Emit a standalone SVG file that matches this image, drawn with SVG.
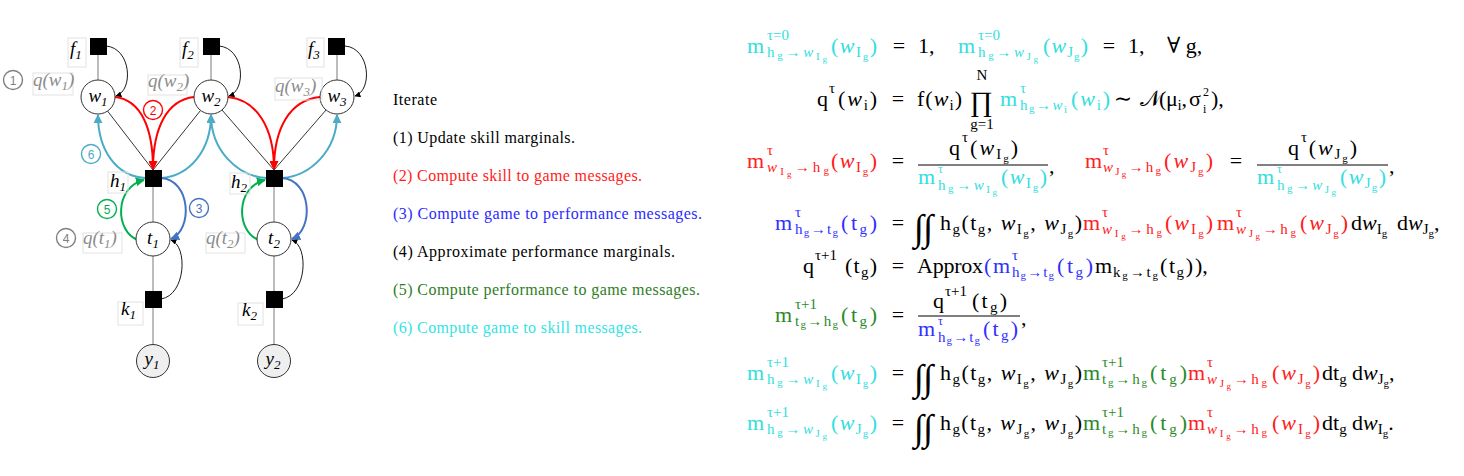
<svg xmlns="http://www.w3.org/2000/svg" width="1464" height="476" viewBox="0 0 1464 476">
<style>
.lbl{font-family:"Liberation Serif","DejaVu Serif",serif;font-style:italic;font-size:19px;fill:#000}
.ql{font-family:"Liberation Serif","DejaVu Serif",serif;font-style:italic;font-size:19px;fill:#8c8c8c}
.lb1{font-size:13px}
.box{fill:none;stroke:#e2e2e2;stroke-width:1}
.sq{fill:#000}
.nd{fill:#fff;stroke:#333;stroke-width:1}
.obs{fill:#efefef;stroke:#333;stroke-width:1}
.cn{font-family:"Liberation Sans",sans-serif;font-size:12px;text-anchor:middle}
.it{font-family:"Liberation Serif",serif;font-size:16px}
.m{font-family:"Liberation Serif","DejaVu Serif",serif;font-size:22px}
.s{font-size:15px}.s2{font-size:11px}.s3{font-size:9px}.sx{font-size:12px}
.w{font-style:italic}
.C{fill:#33dede}.R{fill:#ff2020}.B{fill:#3030ff}.G{fill:#2a8a2a}.K{fill:#000}
.eq{text-anchor:middle}
.int{font-size:37px}
</style>
<defs>
<marker id="aR" viewBox="0 0 10 10" refX="9" refY="5" markerWidth="9" markerHeight="9" markerUnits="userSpaceOnUse" orient="auto"><path d="M0,0L10,5L0,10z" fill="#ff0000"/></marker>
<marker id="aL" viewBox="0 0 10 10" refX="9" refY="5" markerWidth="9" markerHeight="9" markerUnits="userSpaceOnUse" orient="auto"><path d="M0,0L10,5L0,10z" fill="#4bacc6"/></marker>
<marker id="aG" viewBox="0 0 10 10" refX="9" refY="5" markerWidth="9" markerHeight="9" markerUnits="userSpaceOnUse" orient="auto"><path d="M0,0L10,5L0,10z" fill="#00b050"/></marker>
<marker id="aB" viewBox="0 0 10 10" refX="9" refY="5" markerWidth="9" markerHeight="9" markerUnits="userSpaceOnUse" orient="auto"><path d="M0,0L10,5L0,10z" fill="#4472c4"/></marker>
<marker id="aK" viewBox="0 0 10 10" refX="9" refY="5" markerWidth="6" markerHeight="6" markerUnits="userSpaceOnUse" orient="auto"><path d="M0,0L10,5L0,10z" fill="#000"/></marker>
</defs>
<rect width="1464" height="476" fill="#fff"/>

<!-- connectors -->
<g id="connectors" fill="none">
<g stroke="#7a7a7a" stroke-width="1">
<line x1="98" y1="54" x2="98" y2="80"/><line x1="211" y1="54" x2="211" y2="80"/><line x1="337" y1="54" x2="337" y2="80"/>
<line x1="153" y1="187" x2="153" y2="222"/><line x1="153" y1="256" x2="153" y2="291"/><line x1="153" y1="308" x2="153" y2="345"/>
<line x1="274" y1="187" x2="274" y2="222"/><line x1="274" y1="256" x2="274" y2="291"/><line x1="274" y1="308" x2="274" y2="345"/>
</g>
<g stroke="#000" stroke-width="0.8">
<line x1="107.5" y1="111" x2="153" y2="170"/><line x1="200.5" y1="110.5" x2="153" y2="170"/>
<line x1="222" y1="110" x2="274" y2="170"/><line x1="326" y1="110" x2="274" y2="170"/>
</g>
<g stroke="#000" stroke-width="0.9" marker-end="url(#aK)">
<path d="M106,46C131,48 134,90 116,96"/><path d="M219,46C244,48 247,90 229,96"/><path d="M345,46C370,48 373,90 355,96"/>
<path d="M161,299C186,295 188,246 171,240"/><path d="M282,299C307,295 309,246 292,240"/>
</g>
<g stroke="#ff0000" stroke-width="2" marker-end="url(#aR)">
<path d="M115,97C141,100 153,128 153,169"/><path d="M194,97C167,100 153,128 153,169"/>
<path d="M228,97C257,100 274,128 274,169"/><path d="M320,97C290,100 274,128 274,169"/>
</g>
<g stroke="#4bacc6" stroke-width="2" marker-end="url(#aL)">
<path d="M145,178C116,176 98,150 98,115"/><path d="M161,178C190,176 211,150 211,115"/>
<path d="M266,178C237,176 211,150 211,115"/><path d="M282,178C311,176 337,150 337,115"/>
</g>
<g stroke="#00b050" stroke-width="2" marker-end="url(#aG)">
<path d="M138,240C115,232 114,187 144,180"/><path d="M259,240C236,232 235,187 265,180"/>
</g>
<g stroke="#4472c4" stroke-width="2" marker-end="url(#aB)">
<path d="M161,178C191,180 193,230 171,239"/><path d="M282,178C312,180 314,230 292,239"/>
</g>
</g>

<!-- nodes -->
<g id="f1"><rect class="sq" x="90" y="38" width="17" height="17"/><rect class="box" x="68" y="38" width="18" height="29"/><text class="lbl" x="70" y="55">f<tspan class="lb1" dy="4">1</tspan></text></g>
<g id="f2"><rect class="sq" x="203" y="38" width="17" height="17"/><rect class="box" x="180" y="38" width="18" height="29"/><text class="lbl" x="182" y="55">f<tspan class="lb1" dy="4">2</tspan></text></g>
<g id="f3"><rect class="sq" x="328" y="38" width="17" height="17"/><rect class="box" x="307" y="38" width="17" height="29"/><text class="lbl" x="308" y="55">f<tspan class="lb1" dy="4">3</tspan></text></g>
<g id="w1"><circle class="nd" cx="98" cy="97" r="17"/><text class="lbl" x="98" y="102" text-anchor="middle">w<tspan class="lb1" dy="4">1</tspan></text></g>
<g id="w2"><circle class="nd" cx="211" cy="97" r="17"/><text class="lbl" x="211" y="102" text-anchor="middle">w<tspan class="lb1" dy="4">2</tspan></text></g>
<g id="w3"><circle class="nd" cx="337" cy="97" r="17"/><text class="lbl" x="337" y="102" text-anchor="middle">w<tspan class="lb1" dy="4">3</tspan></text></g>
<g id="qw1"><circle cx="13" cy="80" r="9.5" fill="none" stroke="#808080" stroke-width="1.4"/><text class="cn" x="13" y="84.5" fill="#808080">1</text><rect class="box" x="33" y="73" width="40" height="22"/><text class="ql" x="33" y="86">q(w<tspan class="lb1" dy="4">1</tspan><tspan dy="-4">)</tspan></text></g>
<g id="qw2"><rect class="box" x="148" y="75" width="39" height="20"/><text class="ql" x="148" y="87">q(w<tspan class="lb1" dy="4">2</tspan><tspan dy="-4">)</tspan></text></g>
<g id="qw3"><rect class="box" x="275" y="78" width="47" height="22"/><text class="ql" x="275" y="92">q(w<tspan class="lb1" dy="4">3</tspan><tspan dy="-4">)</tspan></text></g>
<g id="c2"><circle cx="153" cy="110" r="9.5" fill="#fff" stroke="#ff0000" stroke-width="1.4"/><text class="cn" x="153" y="114.5" fill="#ff0000">2</text></g>
<g id="c6"><circle cx="91" cy="154" r="9.5" fill="#fff" stroke="#4bacc6" stroke-width="1.4"/><text class="cn" x="91" y="158.5" fill="#4bacc6">6</text></g>
<g id="h1"><rect class="sq" x="145" y="170" width="17" height="17"/><rect class="box" x="108" y="172" width="20" height="21"/><text class="lbl" x="110" y="187">h<tspan class="lb1" dy="4">1</tspan></text></g>
<g id="h2"><rect class="sq" x="266" y="170" width="17" height="17"/><rect class="box" x="230" y="173" width="20" height="21"/><text class="lbl" x="231" y="188">h<tspan class="lb1" dy="4">2</tspan></text></g>
<g id="c5"><circle cx="107" cy="209" r="9.5" fill="#fff" stroke="#00b050" stroke-width="1.4"/><text class="cn" x="107" y="213.5" fill="#00b050">5</text></g>
<g id="c3"><circle cx="199" cy="208" r="9.5" fill="#fff" stroke="#4472c4" stroke-width="1.4"/><text class="cn" x="199" y="212.5" fill="#4472c4">3</text></g>
<g id="t1"><circle class="nd" cx="153" cy="239" r="17"/><text class="lbl" x="153" y="244" text-anchor="middle">t<tspan class="lb1" dy="4">1</tspan></text></g>
<g id="t2"><circle class="nd" cx="274" cy="239" r="17"/><text class="lbl" x="274" y="244" text-anchor="middle">t<tspan class="lb1" dy="4">2</tspan></text></g>
<g id="qt1"><circle cx="66" cy="238" r="9.5" fill="none" stroke="#808080" stroke-width="1.4"/><text class="cn" x="66" y="242.5" fill="#808080">4</text><rect class="box" x="83" y="233" width="39" height="20"/><text class="ql" x="83" y="244">q(t<tspan class="lb1" dy="4">1</tspan><tspan dy="-4">)</tspan></text></g>
<g id="qt2"><rect class="box" x="206" y="233" width="39" height="20"/><text class="ql" x="206" y="244">q(t<tspan class="lb1" dy="4">2</tspan><tspan dy="-4">)</tspan></text></g>
<g id="k1"><rect class="sq" x="145" y="291" width="17" height="17"/><rect class="box" x="118" y="302" width="25" height="23"/><text class="lbl" x="121" y="315">k<tspan class="lb1" dy="4">1</tspan></text></g>
<g id="k2"><rect class="sq" x="266" y="291" width="17" height="17"/><rect class="box" x="238" y="303" width="25" height="22"/><text class="lbl" x="242" y="316">k<tspan class="lb1" dy="4">2</tspan></text></g>
<g id="y1"><circle class="obs" cx="153" cy="361" r="16.5"/><text class="lbl" x="152" y="365" text-anchor="middle">y<tspan class="lb1" dy="4">1</tspan></text></g>
<g id="y2"><circle class="obs" cx="274" cy="361" r="16.5"/><text class="lbl" x="273" y="365" text-anchor="middle">y<tspan class="lb1" dy="4">2</tspan></text></g>

<!-- iterate list -->
<g id="steps" class="it">
<text x="393" y="105" textLength="44">Iterate</text>
<text x="393" y="143" textLength="182">(1) Update skill marginals.</text>
<text x="393" y="181" textLength="249" fill="#ff1a1a">(2) Compute skill to game messages.</text>
<text x="393" y="219" textLength="309" fill="#2a2aff">(3) Compute game to performance messages.</text>
<text x="393" y="257" textLength="282">(4) Approximate performance marginals.</text>
<text x="393" y="295" textLength="307" fill="#2e7d1e">(5) Compute performance to game messages.</text>
<text x="393" y="333" textLength="249" fill="#33e3e3">(6) Compute game to skill messages.</text>
</g>

<!-- equations -->
<g id="equations" class="m">
<!-- L1 -->
<g class="C">
<text x="747" y="53">m</text><text class="s" x="767" y="40">τ=0</text>
<text class="s" x="767" y="57" textLength="60">h<tspan class="s2" dy="2">g</tspan><tspan dy="-2">→</tspan><tspan class="w">w</tspan><tspan class="s2" dy="3">I</tspan><tspan class="s3" dy="2">g</tspan></text>
<text x="831" y="53" textLength="46">(<tspan class="w">w</tspan><tspan class="s" dy="4">I</tspan><tspan class="s2" dy="3">g</tspan><tspan dy="-7">)</tspan></text>
<text x="958" y="53">m</text><text class="s" x="978" y="40">τ=0</text>
<text class="s" x="978" y="57" textLength="60">h<tspan class="s2" dy="2">g</tspan><tspan dy="-2">→</tspan><tspan class="w">w</tspan><tspan class="s2" dy="3">J</tspan><tspan class="s3" dy="2">g</tspan></text>
<text x="1043" y="53" textLength="45">(<tspan class="w">w</tspan><tspan class="s" dy="4">J</tspan><tspan class="s2" dy="3">g</tspan><tspan dy="-7">)</tspan></text>
</g>
<text class="K eq" x="899" y="53">=</text><text class="K" x="918" y="53">1,</text>
<text class="K eq" x="1109" y="53">=</text><text class="K" x="1128" y="53">1,</text>
<text class="K" x="1167" y="53">∀ g,</text>
<!-- L2 -->
<text class="K" x="817" y="106">q</text><text class="K s" x="829" y="93">τ</text>
<text class="K" x="838" y="106" textLength="39">(<tspan class="w">w</tspan><tspan class="s" dy="4">i</tspan><tspan dy="-4">)</tspan></text>
<text class="K eq" x="898" y="106">=</text>
<text class="K" x="917" y="106" textLength="45">f(<tspan class="w">w</tspan><tspan class="s" dy="4">i</tspan><tspan dy="-4">)</tspan></text>
<text class="K eq" x="981" y="111" style="font-size:28px">∏</text>
<text class="K s eq" x="982" y="80">N</text>
<text class="K s eq" x="982" y="129">g=1</text>
<g class="C">
<text x="1000" y="106">m</text><text class="s" x="1020" y="93">τ</text>
<text class="s" x="1020" y="110" textLength="47">h<tspan class="s2" dy="2">g</tspan><tspan dy="-2">→</tspan><tspan class="w">w</tspan><tspan class="s2" dy="3">i</tspan></text>
<text x="1071" y="106" textLength="39">(<tspan class="w">w</tspan><tspan class="s" dy="4">i</tspan><tspan dy="-4">)</tspan></text>
</g>
<text class="K eq" x="1123" y="106">∼</text>
<text class="K" x="1140" y="106">𝒩</text>
<text class="K" x="1159" y="106" textLength="28">(μ<tspan class="s" dy="4">i</tspan><tspan dy="-4">,</tspan></text>
<text class="K" x="1189" y="106">σ</text>
<text class="K sx" x="1203" y="96">2</text><text class="K sx" x="1203" y="113">i</text>
<text class="K" x="1211" y="106">),</text>
<!-- L3 -->
<g class="R">
<text x="747" y="168">m</text><text class="s" x="767" y="155">τ</text>
<text class="s" x="767" y="172" textLength="62"><tspan class="w">w</tspan><tspan class="s2" dy="3">I</tspan><tspan class="s3" dy="2">g</tspan><tspan dy="-5">→h</tspan><tspan class="s2" dy="2">g</tspan></text>
<text x="831" y="168" textLength="46">(<tspan class="w">w</tspan><tspan class="s" dy="4">I</tspan><tspan class="s2" dy="3">g</tspan><tspan dy="-7">)</tspan></text>
</g>
<text class="K eq" x="898" y="168">=</text>
<text class="K" x="949" y="155" textLength="69">q<tspan class="s" dy="-13">τ</tspan><tspan dy="13">(</tspan><tspan class="w">w</tspan><tspan class="s" dy="4">I</tspan><tspan class="s2" dy="3">g</tspan><tspan dy="-7">)</tspan></text>
<line x1="918" y1="165" x2="1048" y2="165" stroke="#000" stroke-width="1"/>
<g class="C">
<text x="918" y="184">m</text><text class="sx" x="938" y="173">τ</text>
<text class="s" x="938" y="190" textLength="59">h<tspan class="s2" dy="2">g</tspan><tspan dy="-2">→</tspan><tspan class="w">w</tspan><tspan class="s2" dy="3">I</tspan><tspan class="s3" dy="2">g</tspan></text>
<text x="1001" y="184" textLength="46">(<tspan class="w">w</tspan><tspan class="s" dy="4">I</tspan><tspan class="s2" dy="3">g</tspan><tspan dy="-7">)</tspan></text>
</g>
<text class="K" x="1049" y="173">,</text>
<g class="R">
<text x="1085" y="168">m</text><text class="s" x="1103" y="155">τ</text>
<text class="s" x="1103" y="172" textLength="58"><tspan class="w">w</tspan><tspan class="s2" dy="3">J</tspan><tspan class="s3" dy="2">g</tspan><tspan dy="-5">→h</tspan><tspan class="s2" dy="2">g</tspan></text>
<text x="1164" y="168" textLength="49">(<tspan class="w">w</tspan><tspan class="s" dy="4">J</tspan><tspan class="s2" dy="3">g</tspan><tspan dy="-7">)</tspan></text>
</g>
<text class="K eq" x="1236" y="168">=</text>
<text class="K" x="1288" y="155" textLength="69">q<tspan class="s" dy="-13">τ</tspan><tspan dy="13">(</tspan><tspan class="w">w</tspan><tspan class="s" dy="4">J</tspan><tspan class="s2" dy="3">g</tspan><tspan dy="-7">)</tspan></text>
<line x1="1257" y1="165" x2="1388" y2="165" stroke="#000" stroke-width="1"/>
<g class="C">
<text x="1257" y="184">m</text><text class="sx" x="1277" y="173">τ</text>
<text class="s" x="1277" y="190" textLength="59">h<tspan class="s2" dy="2">g</tspan><tspan dy="-2">→</tspan><tspan class="w">w</tspan><tspan class="s2" dy="3">J</tspan><tspan class="s3" dy="2">g</tspan></text>
<text x="1340" y="184" textLength="46">(<tspan class="w">w</tspan><tspan class="s" dy="4">J</tspan><tspan class="s2" dy="3">g</tspan><tspan dy="-7">)</tspan></text>
</g>
<text class="K" x="1389" y="173">,</text>
<!-- L4 -->
<g class="B">
<text x="775" y="230">m</text><text class="s" x="795" y="217">τ</text>
<text class="s" x="795" y="234" textLength="43">h<tspan class="s2" dy="2">g</tspan><tspan dy="-2">→t</tspan><tspan class="s2" dy="2">g</tspan></text>
<text x="841" y="230" textLength="36">(t<tspan class="s" dy="4">g</tspan><tspan dy="-4">)</tspan></text>
</g>
<text class="K eq" x="898" y="230">=</text>
<text class="K int" x="914" y="240" letter-spacing="-1">∫∫</text>
<text class="K" x="940" y="230" textLength="142">h<tspan class="s" dy="4">g</tspan><tspan dy="-4">(t</tspan><tspan class="s" dy="4">g</tspan><tspan dy="-4">, </tspan><tspan class="w">w</tspan><tspan class="s" dy="4">I</tspan><tspan class="s2" dy="3">g</tspan><tspan dy="-7">, </tspan><tspan class="w">w</tspan><tspan class="s" dy="4">J</tspan><tspan class="s2" dy="3">g</tspan><tspan dy="-7">)</tspan></text>
<g class="R">
<text x="1083" y="230">m</text><text class="s" x="1102" y="217">τ</text>
<text class="s" x="1102" y="234" textLength="60"><tspan class="w">w</tspan><tspan class="s2" dy="3">I</tspan><tspan class="s3" dy="2">g</tspan><tspan dy="-5">→h</tspan><tspan class="s2" dy="2">g</tspan></text>
<text x="1165" y="230" textLength="48">(<tspan class="w">w</tspan><tspan class="s" dy="4">I</tspan><tspan class="s2" dy="3">g</tspan><tspan dy="-7">)</tspan></text>
<text x="1217" y="230">m</text><text class="s" x="1236" y="217">τ</text>
<text class="s" x="1236" y="234" textLength="60"><tspan class="w">w</tspan><tspan class="s2" dy="3">J</tspan><tspan class="s3" dy="2">g</tspan><tspan dy="-5">→h</tspan><tspan class="s2" dy="2">g</tspan></text>
<text x="1300" y="230" textLength="48">(<tspan class="w">w</tspan><tspan class="s" dy="4">J</tspan><tspan class="s2" dy="3">g</tspan><tspan dy="-7">)</tspan></text>
</g>
<text class="K" x="1351" y="230">d<tspan class="w">w</tspan><tspan class="s" dy="4">I</tspan><tspan class="s2" dy="3">g</tspan></text>
<text class="K" x="1397" y="230">d<tspan class="w">w</tspan><tspan class="s" dy="4">J</tspan><tspan class="s2" dy="3">g</tspan><tspan dy="-7">,</tspan></text>
<!-- L5 -->
<text class="K" x="803" y="273">q</text><text class="K s" x="815" y="260">τ+1</text>
<text class="K" x="845" y="273" textLength="32">(t<tspan class="s" dy="4">g</tspan><tspan dy="-4">)</tspan></text>
<text class="K eq" x="898" y="273">=</text>
<text class="K" x="917" y="273" textLength="66">Approx</text><text class="B" x="984" y="273">(</text>
<g class="B">
<text x="993" y="273">m</text><text class="s" x="1012" y="260">τ</text>
<text class="s" x="1012" y="277" textLength="42">h<tspan class="s2" dy="2">g</tspan><tspan dy="-2">→t</tspan><tspan class="s2" dy="2">g</tspan></text>
<text x="1057" y="273" textLength="36">(t<tspan class="s" dy="4">g</tspan><tspan dy="-4">)</tspan></text>
</g>
<text class="K" x="1095" y="273">m</text>
<text class="K s" x="1113" y="277" textLength="45">k<tspan class="s2" dy="2">g</tspan><tspan dy="-2">→t</tspan><tspan class="s2" dy="2">g</tspan></text>
<text class="K" x="1160" y="273" textLength="33">(t<tspan class="s" dy="4">g</tspan><tspan dy="-4">)</tspan></text>
<text class="K" x="1195" y="273">),</text>
<!-- L6 -->
<g class="G">
<text x="775" y="322">m</text><text class="s" x="795" y="309">τ+1</text>
<text class="s" x="795" y="326" textLength="43">t<tspan class="s2" dy="2">g</tspan><tspan dy="-2">→h</tspan><tspan class="s2" dy="2">g</tspan></text>
<text x="841" y="322" textLength="36">(t<tspan class="s" dy="4">g</tspan><tspan dy="-4">)</tspan></text>
</g>
<text class="K eq" x="898" y="322">=</text>
<text class="K" x="933" y="308">q</text><text class="K s" x="945" y="296">τ+1</text>
<text class="K" x="972" y="308" textLength="35">(t<tspan class="s" dy="4">g</tspan><tspan dy="-4">)</tspan></text>
<line x1="918" y1="316" x2="1020" y2="316" stroke="#000" stroke-width="1"/>
<g class="B">
<text x="918" y="336">m</text><text class="sx" x="938" y="325">τ</text>
<text class="s" x="938" y="342" textLength="42">h<tspan class="s2" dy="2">g</tspan><tspan dy="-2">→t</tspan><tspan class="s2" dy="2">g</tspan></text>
<text x="983" y="336" textLength="35">(t<tspan class="s" dy="4">g</tspan><tspan dy="-4">)</tspan></text>
</g>
<text class="K" x="1021" y="325">,</text>
<!-- L7 -->
<g class="C">
<text x="747" y="380">m</text><text class="s" x="767" y="367">τ+1</text>
<text class="s" x="767" y="384" textLength="60">h<tspan class="s2" dy="2">g</tspan><tspan dy="-2">→</tspan><tspan class="w">w</tspan><tspan class="s2" dy="3">I</tspan><tspan class="s3" dy="2">g</tspan></text>
<text x="831" y="380" textLength="46">(<tspan class="w">w</tspan><tspan class="s" dy="4">I</tspan><tspan class="s2" dy="3">g</tspan><tspan dy="-7">)</tspan></text>
</g>
<text class="K eq" x="898" y="380">=</text>
<text class="K int" x="914" y="390" letter-spacing="-1">∫∫</text>
<text class="K" x="940" y="380" textLength="142">h<tspan class="s" dy="4">g</tspan><tspan dy="-4">(t</tspan><tspan class="s" dy="4">g</tspan><tspan dy="-4">, </tspan><tspan class="w">w</tspan><tspan class="s" dy="4">I</tspan><tspan class="s2" dy="3">g</tspan><tspan dy="-7">, </tspan><tspan class="w">w</tspan><tspan class="s" dy="4">J</tspan><tspan class="s2" dy="3">g</tspan><tspan dy="-7">)</tspan></text>
<g class="G">
<text x="1083" y="380">m</text><text class="s" x="1102" y="367">τ+1</text>
<text class="s" x="1102" y="384" textLength="45">t<tspan class="s2" dy="2">g</tspan><tspan dy="-2">→h</tspan><tspan class="s2" dy="2">g</tspan></text>
<text x="1150" y="380" textLength="37">(t<tspan class="s" dy="4">g</tspan><tspan dy="-4">)</tspan></text>
</g>
<g class="R">
<text x="1188" y="380">m</text><text class="s" x="1207" y="367">τ</text>
<text class="s" x="1207" y="384" textLength="60"><tspan class="w">w</tspan><tspan class="s2" dy="3">J</tspan><tspan class="s3" dy="2">g</tspan><tspan dy="-5">→h</tspan><tspan class="s2" dy="2">g</tspan></text>
<text x="1272" y="380" textLength="48">(<tspan class="w">w</tspan><tspan class="s" dy="4">J</tspan><tspan class="s2" dy="3">g</tspan><tspan dy="-7">)</tspan></text>
</g>
<text class="K" x="1322" y="380">dt<tspan class="s" dy="4">g</tspan></text>
<text class="K" x="1352" y="380">d<tspan class="w">w</tspan><tspan class="s" dy="4">J</tspan><tspan class="s2" dy="3">g</tspan><tspan dy="-7">,</tspan></text>
<!-- L8 -->
<g class="C">
<text x="747" y="430">m</text><text class="s" x="767" y="417">τ+1</text>
<text class="s" x="767" y="434" textLength="60">h<tspan class="s2" dy="2">g</tspan><tspan dy="-2">→</tspan><tspan class="w">w</tspan><tspan class="s2" dy="3">J</tspan><tspan class="s3" dy="2">g</tspan></text>
<text x="831" y="430" textLength="46">(<tspan class="w">w</tspan><tspan class="s" dy="4">J</tspan><tspan class="s2" dy="3">g</tspan><tspan dy="-7">)</tspan></text>
</g>
<text class="K eq" x="898" y="430">=</text>
<text class="K int" x="914" y="440" letter-spacing="-1">∫∫</text>
<text class="K" x="940" y="430" textLength="142">h<tspan class="s" dy="4">g</tspan><tspan dy="-4">(t</tspan><tspan class="s" dy="4">g</tspan><tspan dy="-4">, </tspan><tspan class="w">w</tspan><tspan class="s" dy="4">J</tspan><tspan class="s2" dy="3">g</tspan><tspan dy="-7">, </tspan><tspan class="w">w</tspan><tspan class="s" dy="4">J</tspan><tspan class="s2" dy="3">g</tspan><tspan dy="-7">)</tspan></text>
<g class="G">
<text x="1083" y="430">m</text><text class="s" x="1102" y="417">τ+1</text>
<text class="s" x="1102" y="434" textLength="45">t<tspan class="s2" dy="2">g</tspan><tspan dy="-2">→h</tspan><tspan class="s2" dy="2">g</tspan></text>
<text x="1150" y="430" textLength="37">(t<tspan class="s" dy="4">g</tspan><tspan dy="-4">)</tspan></text>
</g>
<g class="R">
<text x="1188" y="430">m</text><text class="s" x="1207" y="417">τ</text>
<text class="s" x="1207" y="434" textLength="60"><tspan class="w">w</tspan><tspan class="s2" dy="3">I</tspan><tspan class="s3" dy="2">g</tspan><tspan dy="-5">→h</tspan><tspan class="s2" dy="2">g</tspan></text>
<text x="1272" y="430" textLength="48">(<tspan class="w">w</tspan><tspan class="s" dy="4">I</tspan><tspan class="s2" dy="3">g</tspan><tspan dy="-7">)</tspan></text>
</g>
<text class="K" x="1322" y="430">dt<tspan class="s" dy="4">g</tspan></text>
<text class="K" x="1352" y="430">d<tspan class="w">w</tspan><tspan class="s" dy="4">I</tspan><tspan class="s2" dy="3">g</tspan><tspan dy="-7">.</tspan></text>
</g>
</svg>
